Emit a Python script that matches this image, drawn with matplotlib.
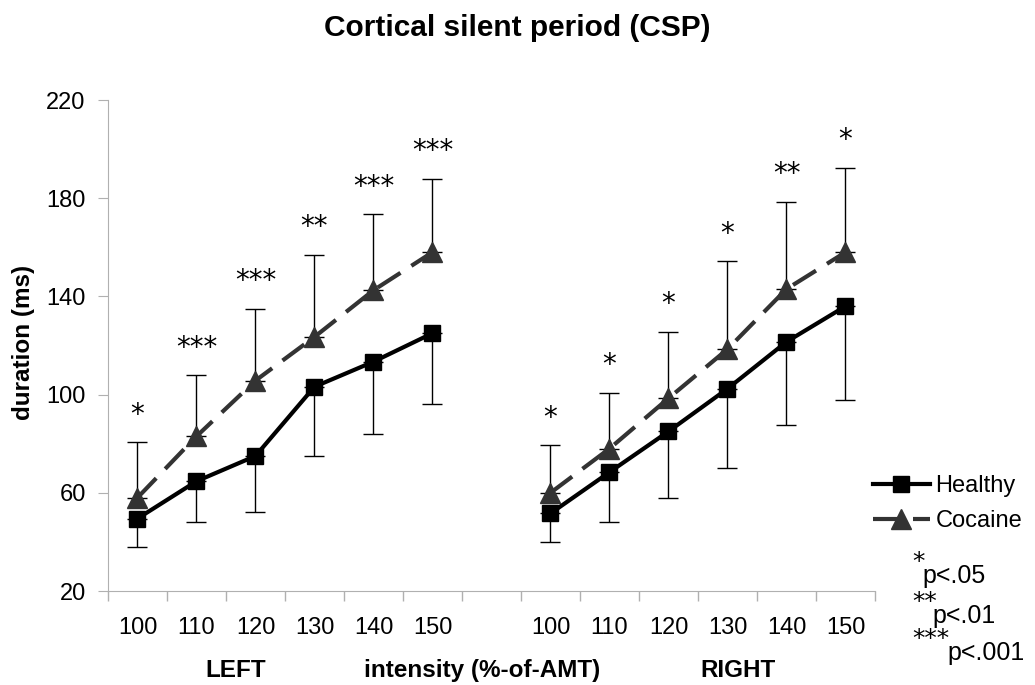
import numpy as np
import matplotlib.pyplot as plt

plt.rcParams['font.family'] = ['Liberation Sans', 'DejaVu Sans']

intensities = ['100', '110', '120', '130', '140', '150']

healthy_left = [49.5, 64.7, 75.0, 103.2, 113.4, 125.0]
healthy_left_err = [11.5, 16.7, 23.0, 28.2, 29.4, 29.0]
cocaine_left = [58.0, 83.0, 105.7, 123.5, 142.5, 158.0]
cocaine_left_err = [22.7, 25.0, 29.3, 33.5, 31.0, 30.0]
stars_left = ['*', '***', '***', '**', '***', '***']

healthy_right = [51.6, 68.4, 85.0, 102.4, 121.5, 136.0]
healthy_right_err = [11.6, 20.4, 27.0, 32.4, 34.0, 38.0]
cocaine_right = [60.0, 78.0, 98.5, 118.5, 143.0, 158.0]
cocaine_right_err = [19.4, 22.7, 27.2, 35.9, 35.6, 34.5]
stars_right = ['*', '*', '*', '*', '**', '*']

pos_left = np.arange(6)
pos_right = np.arange(7, 13)

fig = plt.figure(figsize=(10.35, 6.85), dpi=100)
ax = fig.add_axes([0.1043, 0.1372, 0.7411, 0.7168])

coc_col = '#333333'
for pos, h, he, c, ce, st in [
        (pos_left, healthy_left, healthy_left_err, cocaine_left, cocaine_left_err, stars_left),
        (pos_right, healthy_right, healthy_right_err, cocaine_right, cocaine_right_err, stars_right)]:
    z = np.zeros(len(pos))
    ax.errorbar(pos, c, yerr=[z, ce], fmt='none', ecolor='black', elinewidth=1,
                capsize=7, capthick=1, zorder=2)
    ax.errorbar(pos, h, yerr=[he, z], fmt='none', ecolor='black', elinewidth=1,
                capsize=7, capthick=1, zorder=2)
    lc, = ax.plot(pos, c, color=coc_col, lw=3, ls=(0, (6.5, 3.1)), marker='^',
                  markersize=14, zorder=3)
    lh, = ax.plot(pos, h, color='black', lw=3, marker='s', markersize=12, zorder=4)
    for x, top, s in zip(pos, np.array(c) + np.array(ce), st):
        ax.annotate(s, (x, top), xytext=(0, 14), textcoords='offset points',
                    ha='center', va='baseline', fontsize=20, family='DejaVu Sans')

ax.set_xlim(-0.5, 12.5)
ax.set_ylim(20, 220)
ax.set_yticks(np.arange(20, 221, 40))
ax.set_xticks(list(pos_left) + list(pos_right))
ax.set_xticklabels(intensities + intensities)
ax.set_xticks(np.arange(-0.5, 12.6, 1), minor=True)
ax.tick_params(axis='x', which='major', length=0, labelsize=17, pad=19)
ax.tick_params(axis='x', which='minor', length=7, color='#b0b0b0', width=1)
ax.tick_params(axis='y', length=7, color='#b0b0b0', labelsize=17, pad=9)
for s in ['top', 'right']:
    ax.spines[s].set_visible(False)
for s in ['left', 'bottom']:
    ax.spines[s].set_color('#b0b0b0')

fig.text(24 / 1035, 1 - 342 / 685, 'duration (ms)', rotation=90, ha='center',
         va='center', fontsize=17.5, fontweight='bold')
fig.text(0.5, 1 - 36 / 685, 'Cortical silent period (CSP)', ha='center',
         va='baseline', fontsize=21.5, fontweight='bold')
fig.text(236 / 1035, 1 - 677 / 685, 'LEFT', ha='center', va='baseline',
         fontsize=17.5, fontweight='bold')
fig.text(482 / 1035, 1 - 677 / 685, 'intensity (%-of-AMT)', ha='center',
         va='baseline', fontsize=17.5, fontweight='bold')
fig.text(738 / 1035, 1 - 677 / 685, 'RIGHT', ha='center', va='baseline',
         fontsize=17.5, fontweight='bold')

fig.legend([lh, lc], ['Healthy', 'Cocaine'], loc='upper left',
           bbox_to_anchor=(873 / 1035, 1 - 475 / 685), frameon=False,
           fontsize=17, handlelength=2.4, handletextpad=0.25, labelspacing=0.56,
           borderaxespad=0, borderpad=0)

sig_levels = [('*', 'p<.05'), ('**', 'p<.01'), ('***', 'p<.001')]
p_x = [922, 932, 947]
p_base = [583, 623, 660]
for s, p, px, yb in zip([a for a, b in sig_levels], [b for a, b in sig_levels], p_x, p_base):
    fig.text(912 / 1035, 1 - (yb - 14) / 685, s, ha='left', va='baseline',
             fontsize=18, family='DejaVu Sans')
    fig.text(px / 1035, 1 - yb / 685, p, ha='left', va='baseline', fontsize=18)

fig.savefig('out.png', dpi=100)
